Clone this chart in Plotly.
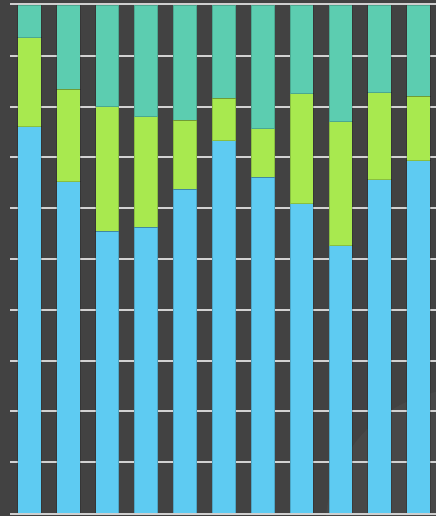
import plotly.graph_objects as go

categories = ["1", "2", "3", "4", "5", "6", "7", "8", "9", "10", "11"]
blue_vals = [76.0, 65.2, 55.5, 56.3, 63.7, 73.3, 66.1, 60.9, 52.6, 65.6, 69.3]
green_vals = [17.6, 18.2, 24.5, 21.7, 13.6, 8.3, 9.5, 21.6, 24.4, 17.1, 12.7]
teal_vals = [6.4, 16.6, 20.0, 22.0, 22.7, 18.4, 24.4, 17.5, 23.0, 17.3, 18.0]

series = [
    ("A", blue_vals, "#5ecbf2"),
    ("B", green_vals, "#a8e94f"),
    ("C", teal_vals, "#5ccdb0"),
]

fig = go.Figure()
for name, vals, color in series:
    fig.add_trace(go.Bar(
        x=list(range(len(categories))), y=vals, name=name,
        marker=dict(color=color, line=dict(color="rgba(0,0,0,0.18)", width=1)),
        width=0.6,
    ))

# faint decorative glow in the lower-right corner
fig.add_shape(type="circle", xref="paper", yref="paper",
              x0=0.74, x1=1.40, y0=-0.31, y1=0.245,
              fillcolor="rgba(255,255,255,0.035)", line=dict(width=0),
              layer="below")

fig.update_layout(
    barmode="stack",
    width=436, height=516,
    margin=dict(l=10, r=0, t=5, b=3),
    paper_bgcolor="#424242",
    plot_bgcolor="#424242",
    showlegend=False,
    xaxis=dict(range=[-0.5, 10.45], showgrid=False, showticklabels=False,
               zeroline=False, showline=True, linecolor="#cfcfcf", linewidth=2,
               mirror=True, ticks=""),
    yaxis=dict(range=[0, 100], dtick=10, showgrid=True, gridcolor="#d2d2d2",
               gridwidth=2, showticklabels=False, zeroline=False, ticks=""),
)

fig.write_html(
    "out.html",
    config={"displayModeBar": False},
    post_script="document.body.style.margin='0';document.body.style.background='#424242';",
)
